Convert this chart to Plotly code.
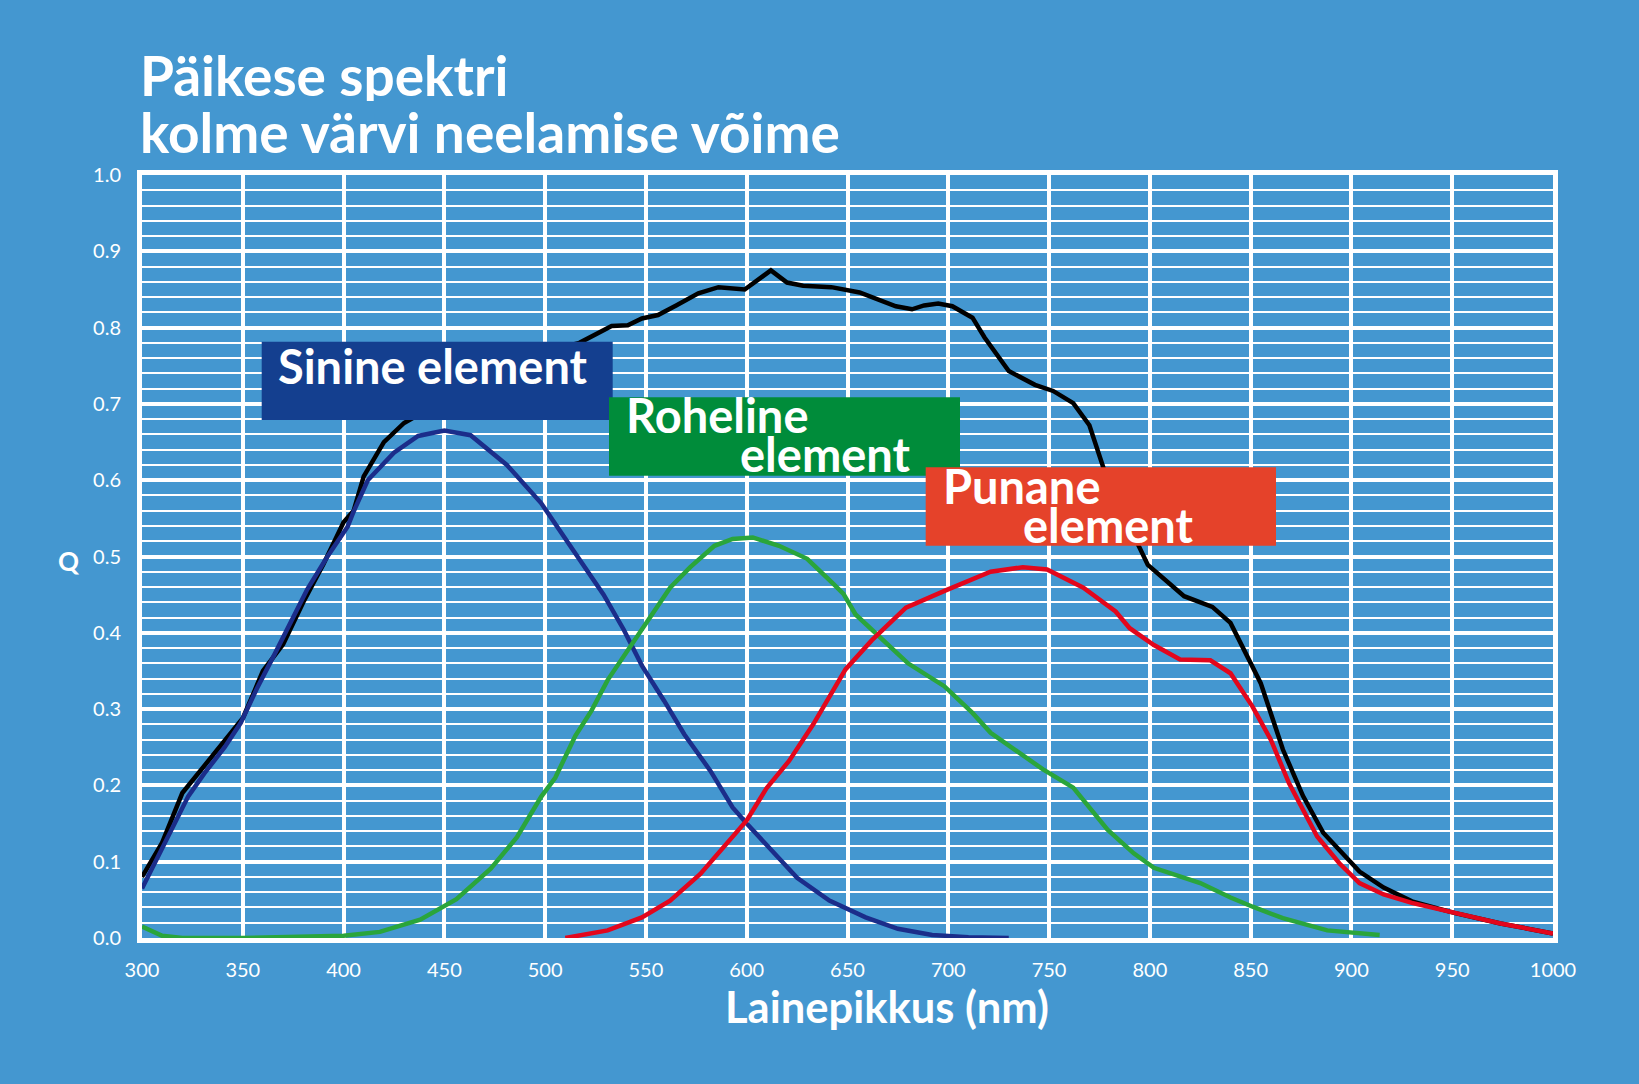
import plotly.graph_objects as go

# ---------------- data ----------------
black_x = [300, 310, 320, 330, 340, 350, 356, 360, 370, 380, 390, 400, 405, 410, 420, 430, 440,
           455, 470, 490, 505, 517, 533, 541, 548, 556, 565, 576, 586, 599, 612, 620, 628, 642,
           656, 663, 674, 682, 688, 695, 702, 712, 718, 730, 743, 752, 762, 770, 779, 787, 795,
           799, 817, 831, 840, 855, 866, 876, 886, 904, 916, 924, 930, 951, 974, 1000]
black_y = [0.08, 0.125, 0.19, 0.222, 0.255, 0.288, 0.325, 0.35, 0.385, 0.44, 0.49, 0.545, 0.56,
           0.605, 0.65, 0.675, 0.69, 0.715, 0.74, 0.762, 0.772, 0.78, 0.802, 0.803, 0.812, 0.8165,
           0.829, 0.845, 0.853, 0.850, 0.875, 0.859, 0.855, 0.853, 0.846, 0.8385, 0.828, 0.824,
           0.829, 0.8315, 0.828, 0.813, 0.787, 0.743, 0.725, 0.717, 0.701, 0.672, 0.60, 0.555,
           0.513, 0.489, 0.448, 0.434, 0.413, 0.334, 0.247, 0.186, 0.138, 0.087, 0.066, 0.055,
           0.048, 0.033, 0.019, 0.006]

blue_x = [300, 310, 316, 323, 331, 341, 349, 357, 366, 374, 382, 392, 402, 405, 412, 425, 437,
          450, 463, 481, 498, 514, 529, 539, 548, 559, 569, 582, 593, 600, 613, 625, 641, 659,
          675, 692, 710, 730]
blue_y = [0.065, 0.118, 0.152, 0.186, 0.216, 0.25, 0.282, 0.327, 0.373, 0.414, 0.457, 0.5, 0.539,
          0.559, 0.6, 0.636, 0.658, 0.665, 0.659, 0.62, 0.57, 0.508, 0.45, 0.404, 0.357, 0.311,
          0.267, 0.219, 0.171, 0.15, 0.112, 0.079, 0.049, 0.027, 0.012, 0.004, 0.001, 0.0]

green_x = [300, 310, 320, 350, 400, 418, 438, 456, 473, 486, 498, 505, 515, 523, 531, 543, 551,
           562, 572, 584, 593, 603, 616, 630, 643, 648, 654, 666, 680, 698, 712, 721, 732, 747,
           762, 779, 792, 802, 825, 840, 851, 866, 888, 914]
green_y = [0.015, 0.003, 0.0, 0.0, 0.003, 0.008, 0.024, 0.051, 0.091, 0.132, 0.185, 0.21, 0.265,
           0.298, 0.338, 0.385, 0.416, 0.459, 0.486, 0.514, 0.523, 0.525, 0.514, 0.497, 0.464,
           0.451, 0.424, 0.394, 0.36, 0.33, 0.295, 0.269, 0.249, 0.221, 0.197, 0.142, 0.111,
           0.092, 0.072, 0.053, 0.041, 0.026, 0.01, 0.004]

red_x = [510, 531, 548, 562, 577, 590, 600, 610, 621, 633, 643, 649, 662, 679, 699, 721, 737,
         749, 767, 783, 790, 802, 815, 830, 840, 851, 860, 869, 883, 894, 904, 916, 930, 951,
         974, 1000]
red_y = [0.0, 0.01, 0.027, 0.049, 0.084, 0.123, 0.154, 0.197, 0.232, 0.28, 0.324, 0.352, 0.39,
         0.433, 0.456, 0.48, 0.486, 0.483, 0.459, 0.428, 0.406, 0.384, 0.365, 0.364, 0.347,
         0.303, 0.26, 0.203, 0.133, 0.098, 0.072, 0.057, 0.046, 0.033, 0.019, 0.006]

x_ticks = [300, 350, 400, 450, 500, 550, 600, 650, 700, 750, 800, 850, 900, 950, 1000]
y_ticks = [0.0, 0.1, 0.2, 0.3, 0.4, 0.5, 0.6, 0.7, 0.8, 0.9, 1.0]

title_lines = ["Päikese spektri", "kolme värvi neelamise võime"]
x_title = "Lainepikkus (nm)"
y_title = "Q"

# ---------------- layout helpers ----------------
W, H = 1639, 1084
L, R, T, B = 142, 1553, 175, 938   # plot area in pixels
BG = "#4497d0"
FONT = "Lato"


def px(xp):
    return (xp - L) / (R - L)


def py(yp):
    return (B - yp) / (B - T)


fig = go.Figure()
series = [
    (black_x, black_y, "#000000"),
    (blue_x, blue_y, "#1b2d8a"),
    (green_x, green_y, "#2aa53b"),
    (red_x, red_y, "#e3061c"),
]
for xs, ys, col in series:
    fig.add_trace(go.Scatter(x=xs, y=ys, mode="lines",
                             line=dict(color=col, width=4.5), hoverinfo="skip",
                             showlegend=False))

# label boxes
boxes = [
    (261.7, 612.7, 341.7, 420.0, "#143f8f"),
    (609.0, 960.0, 397.3, 475.7, "#008c3a"),
    (925.7, 1276.0, 467.3, 545.7, "#e5422a"),
]
for x0, x1, y0, y1, col in boxes:
    fig.add_shape(type="rect", xref="paper", yref="paper",
                  x0=px(x0), x1=px(x1), y0=py(y1), y1=py(y0),
                  fillcolor=col, line=dict(width=0), layer="above")

labels = [
    ("Sinine element", 277.0, 366.0),
    ("Roheline", 625.0, 415.2),
    ("element", 739.0, 454.2),
    ("Punane", 942.0, 485.5),
    ("element", 1022.0, 524.5),
]
for txt, xl, ym in labels:
    fig.add_annotation(text=txt, xref="paper", yref="paper", x=px(xl), y=py(ym),
                       xanchor="left", yanchor="middle", showarrow=False, borderpad=0,
                       height=38,
                       font=dict(family=FONT, size=47, color="white", weight="bold"))

# title
for txt, ym in zip(title_lines, [75.0, 132.0]):
    fig.add_annotation(text=txt, xref="paper", yref="paper", x=px(139), y=py(ym),
                       xanchor="left", yanchor="middle", showarrow=False, borderpad=0,
                       height=52,
                       font=dict(family=FONT, size=55, color="white", weight="bold"))

# axis titles
fig.add_annotation(text=x_title, xref="paper", yref="paper", x=px(886.5), y=py(1006),
                   xanchor="center", yanchor="middle", showarrow=False, borderpad=0,
                   font=dict(family=FONT, size=43.5, color="white", weight="bold"))
fig.add_annotation(text=y_title, xref="paper", yref="paper", x=px(69), y=py(561),
                   xanchor="center", yanchor="middle", showarrow=False,
                   font=dict(family=FONT, size=26, color="white", weight="bold"))

fig.update_layout(
    width=W, height=H,
    margin=dict(l=L, r=W - R, t=T, b=H - B, pad=0),
    paper_bgcolor=BG, plot_bgcolor=BG,
    showlegend=False,
)
fig.update_xaxes(range=[300, 1000], tickmode="array", tickvals=x_ticks,
                 ticktext=[str(v) for v in x_ticks],
                 showgrid=True, gridcolor="white", gridwidth=4,
                 showline=True, linecolor="white", linewidth=5, mirror=True,
                 zeroline=False, ticks="", ticklabelstandoff=10,
                 tickfont=dict(family=FONT, size=20, color="white"))
fig.update_yaxes(range=[0, 1], tickmode="array", tickvals=y_ticks,
                 ticktext=[f"{v:.1f}" for v in y_ticks],
                 showgrid=True, gridcolor="white", gridwidth=4,
                 minor=dict(dtick=0.02, showgrid=True, gridcolor="white", gridwidth=2),
                 showline=True, linecolor="white", linewidth=5, mirror=True,
                 zeroline=False, ticks="", ticklabelstandoff=12,
                 tickfont=dict(family=FONT, size=20, color="white"))

fig.write_html(
    "out.html",
    config={"displayModeBar": False},
    post_script="document.body.style.margin='0';document.body.style.background='" + BG + "';",
)
